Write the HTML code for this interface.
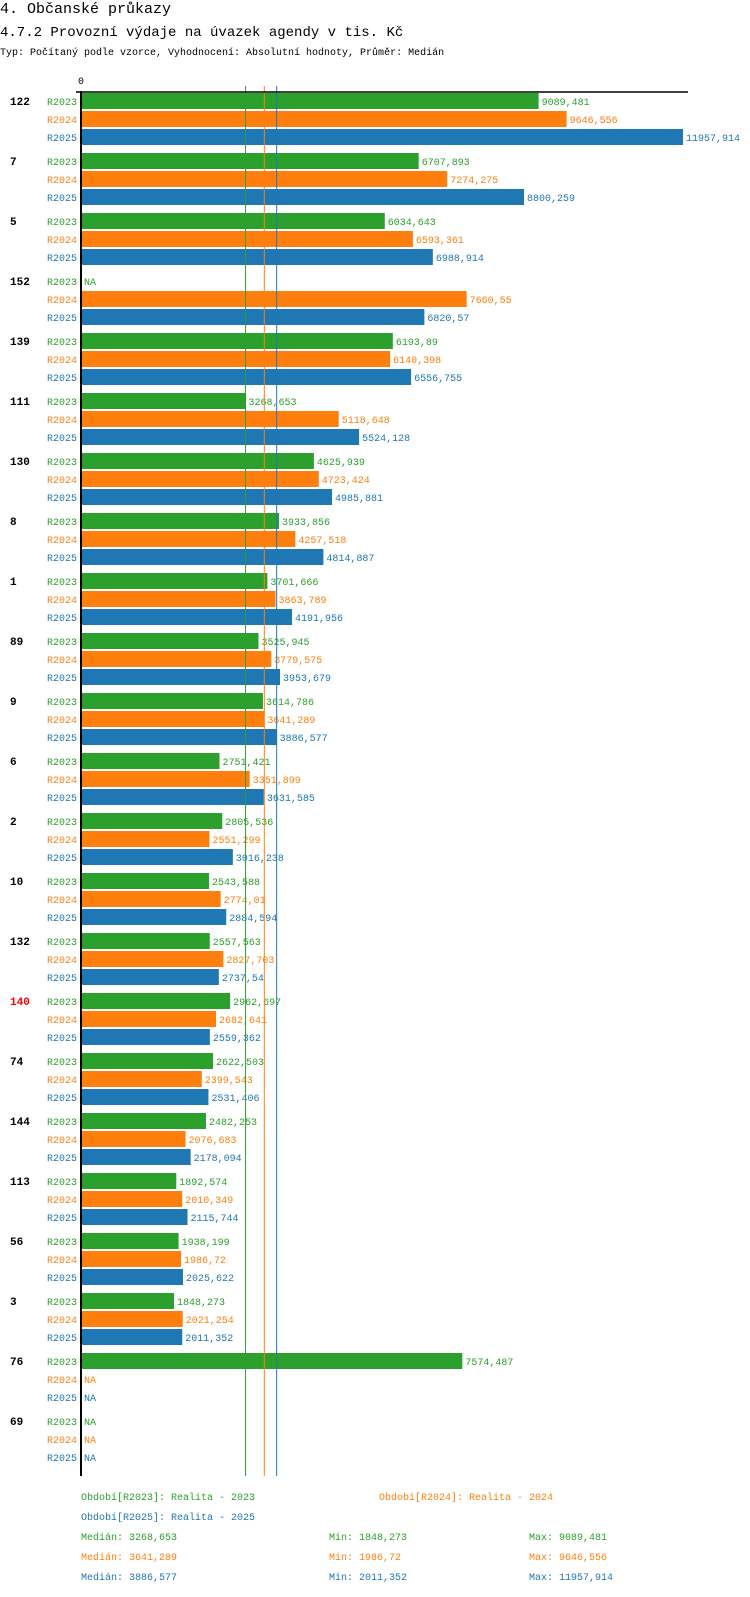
<!DOCTYPE html>
<html><head><meta charset="utf-8"><style>
body{margin:0;background:#fff;width:750px;height:1592px;overflow:hidden;font-family:"Liberation Mono","DejaVu Sans Mono",monospace}
svg text{font-family:"Liberation Mono","DejaVu Sans Mono",monospace}
</style></head><body>
<svg id="chart" width="750" height="1592" xmlns="http://www.w3.org/2000/svg">
<text x="0" y="13" font-size="15">4. Občanské průkazy</text>
<text x="0" y="36" font-size="14">4.7.2 Provozní výdaje na úvazek agendy v tis. Kč</text>
<text x="0" y="55" font-size="10">Typ: Počítaný podle vzorce, Vyhodnocení: Absolutní hodnoty, Průměr: Medián</text>
<g id="plot"></g>
<g font-size="10">
<text x="81" y="1500" fill="#2ca02c">Období[R2023]: Realita - 2023</text>
<text x="379" y="1500" fill="#ff7f0e">Období[R2024]: Realita - 2024</text>
<text x="81" y="1520" fill="#1f77b4">Období[R2025]: Realita - 2025</text>
<text x="81" y="1540" fill="#2ca02c">Medián: 3268,653</text>
<text x="329" y="1540" fill="#2ca02c">Min: 1848,273</text>
<text x="529" y="1540" fill="#2ca02c">Max: 9089,481</text>
<text x="81" y="1560" fill="#ff7f0e">Medián: 3641,289</text>
<text x="329" y="1560" fill="#ff7f0e">Min: 1986,72</text>
<text x="529" y="1560" fill="#ff7f0e">Max: 9646,556</text>
<text x="81" y="1580" fill="#1f77b4">Medián: 3886,577</text>
<text x="329" y="1580" fill="#1f77b4">Min: 2011,352</text>
<text x="529" y="1580" fill="#1f77b4">Max: 11957,914</text>
</g>
</svg>
<script>
const categories=["122","7","5","152","139","111","130","8","1","89","9","6","2","10","132","140","74","144","113","56","3","76","69"];
const seriesNames=["R2023","R2024","R2025"];
const r2023=[9089.481,6707.893,6034.643,null,6193.89,3268.653,4625.939,3933.856,3701.666,3525.945,3614.786,2751.421,2805.536,2543.588,2557.563,2962.697,2622.503,2482.253,1892.574,1938.199,1848.273,7574.487,null];
const r2024=[9646.556,7274.275,6593.361,7660.55,6140.398,5118.648,4723.424,4257.518,3863.789,3779.575,3641.289,3351.899,2551.299,2774.01,2827.703,2682.641,2399.543,2076.683,2010.349,1986.72,2021.254,null,null];
const r2025=[11957.914,8800.259,6988.914,6820.57,6556.755,5524.128,4985.881,4814.887,4191.956,3953.679,3886.577,3631.585,3016.238,2884.594,2737.54,2559.362,2531.406,2178.094,2115.744,2025.622,2011.352,null,null];
const medians=[3268.653,3641.289,3886.577];
const colors=["#2ca02c","#ff7f0e","#1f77b4"];
const series=[r2023,r2024,r2025];
const NS="http://www.w3.org/2000/svg";
const g=document.getElementById('plot');
const x0=81, xMax=11957.914, xEnd=683;
const xs=v=>x0+v*(xEnd-x0)/xMax;
const rowY=(i,s)=>93+i*60+s*18;
function mk(t,a){const e=document.createElementNS(NS,t);for(const k in a)e.setAttribute(k,a[k]);g.appendChild(e);return e;}
function fmt(v){return String(v).replace('.',',');}
categories.forEach((c,i)=>{
  const t=mk('text',{x:10,y:rowY(i,0)+12,'font-size':11,'font-weight':'bold',fill:c==="140"?"#ff0000":"#000"});
  t.textContent=c;
  
  
  series.forEach((arr,s)=>{
    const y=rowY(i,s);
    const l=mk('text',{x:77,y:y+12,'font-size':10,fill:colors[s],'text-anchor':'end'});
    l.textContent=seriesNames[s];
    
    
    const v=arr[i];
    if(v==null){
      const n=mk('text',{x:84,y:y+12,'font-size':10,fill:colors[s]});n.textContent="NA";
      
      
    }else{
      const r=mk('rect',{x:x0,y:y,width:xs(v)-x0,height:16,fill:colors[s]});
      
      
      const vl=mk('text',{x:xs(v)+3,y:y+12,'font-size':10,fill:colors[s]});vl.textContent=fmt(v);
      
      
    }
  });
});
medians.forEach((m,s)=>{
  const ln=mk('line',{x1:xs(m),x2:xs(m),y1:86,y2:1476,stroke:colors[s],'stroke-width':1});
  
  
});
const ax=mk('line',{x1:x0,x2:x0,y1:91,y2:1476,stroke:'#000','stroke-width':2});


const tx=mk('line',{x1:76,x2:688,y1:92,y2:92,stroke:'#000','stroke-width':1.5});


const z=mk('text',{x:x0,y:84,'font-size':10,'text-anchor':'middle'});z.textContent="0";


</script>
</body></html>
